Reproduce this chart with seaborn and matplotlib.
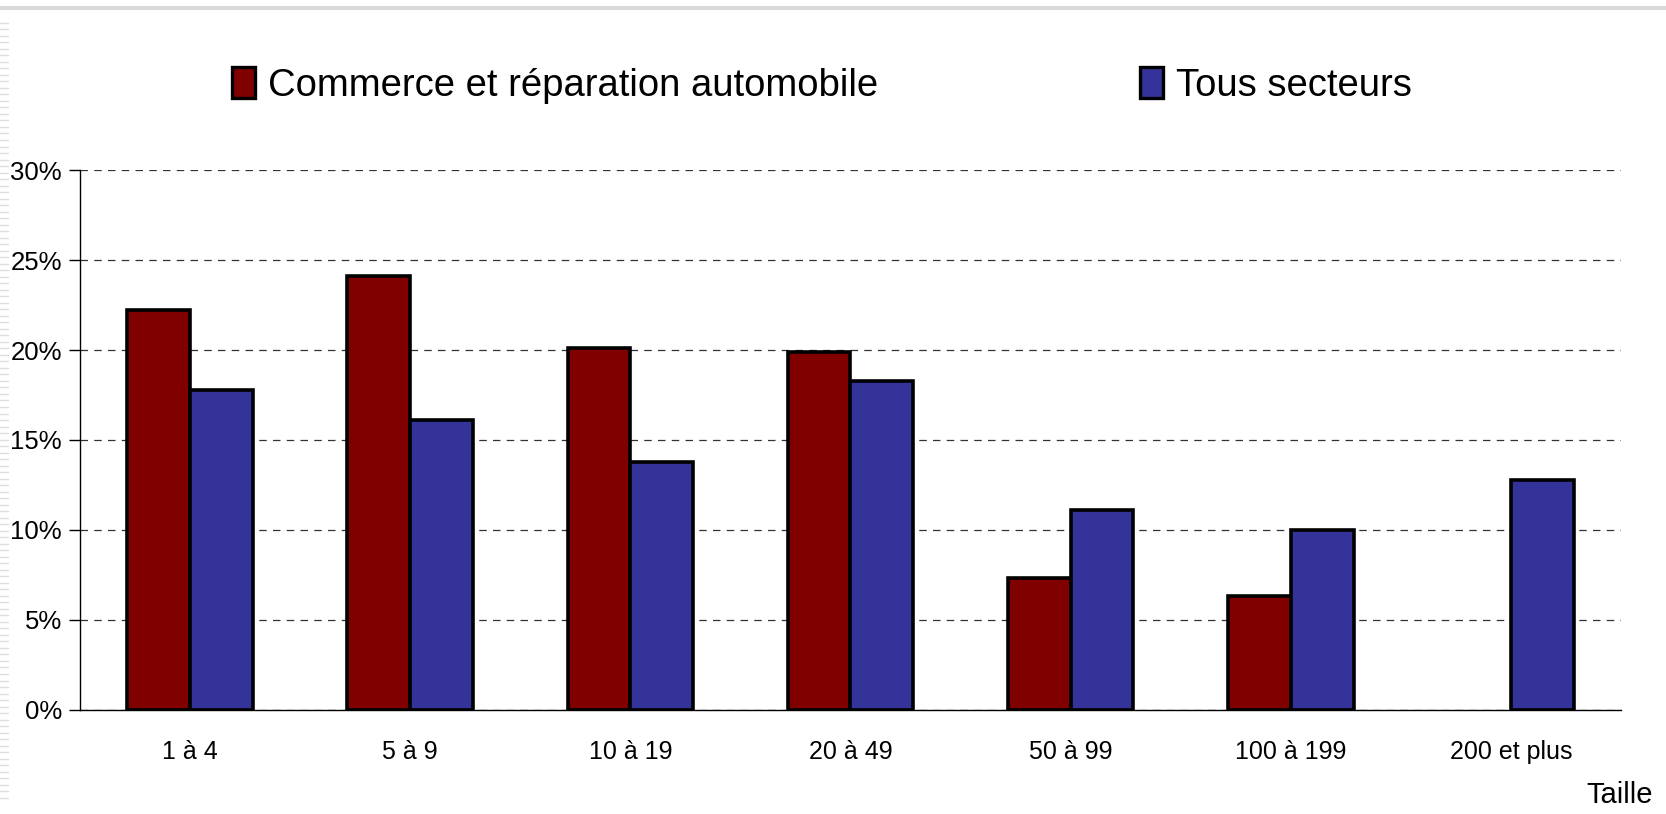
import matplotlib
matplotlib.use("Agg")
import matplotlib.pyplot as plt
import matplotlib.font_manager as fm
from matplotlib.lines import Line2D
from matplotlib.patches import Patch
from matplotlib.ticker import PercentFormatter
import seaborn as sns
import pandas as pd
import numpy as np

categories = ["1 à 4", "5 à 9", "10 à 19", "20 à 49", "50 à 99", "100 à 199", "200 et plus"]
commerce = [22.2, 24.1, 20.1, 19.9, 7.3, 6.3, np.nan]
tous = [17.8, 16.1, 13.8, 18.3, 11.1, 10.0, 12.8]
series_names = ["Commerce et réparation automobile", "Tous secteurs"]
colors = ["#800000", "#333399"]
yticks = [0, 5, 10, 15, 20, 25, 30]
xlabel = "Taille"

sns.set_theme(style="white")
names = {f.name for f in fm.fontManager.ttflist}
fam = ["Liberation Sans Narrow", "Liberation Sans", "DejaVu Sans"]
fam = [f for f in fam if f in names] or ["DejaVu Sans"]
plt.rcParams["font.family"] = fam
plt.rcParams["text.color"] = "black"
plt.rcParams["xtick.labelcolor"] = "black"
plt.rcParams["ytick.labelcolor"] = "black"

df = pd.DataFrame({
    "cat": categories * 2,
    "val": commerce + tous,
    "serie": [series_names[0]] * len(categories) + [series_names[1]] * len(categories),
})

fig = plt.figure(figsize=(16.66, 8.14), dpi=100)
ax = fig.add_axes([0.048, 0.128, 0.925, 0.663])

sns.barplot(data=df, x="cat", y="val", hue="serie", hue_order=series_names,
            palette=colors, width=0.57, gap=0, edgecolor="black", linewidth=2.6,
            saturation=1, legend=False, ax=ax, errorbar=None)

ax.set_xlim(-0.5, len(categories) - 0.5)
ax.set_ylim(0, 30)
ax.set_yticks(yticks)
ax.yaxis.set_major_formatter(PercentFormatter(decimals=0))
ax.grid(axis="y", color="#333333", linestyle=(0, (6, 5)), linewidth=0.9)
ax.set_axisbelow(True)
for s in ["top", "right"]:
    ax.spines[s].set_visible(False)
ax.spines["left"].set_color("black")
ax.spines["bottom"].set_color("black")
ax.spines["left"].set_linewidth(1.0)
ax.spines["bottom"].set_linewidth(1.0)
ax.tick_params(axis="y", left=True, length=8, width=1, color="black", labelsize=18.5, pad=5)
ax.tick_params(axis="x", bottom=False, labelsize=18, pad=16)
ax.set_xlabel("")
ax.set_ylabel("")
fig.text(0.992, 0.006, xlabel, ha="right", va="bottom", fontsize=21)

for name, col, xpos in zip(series_names, colors, [0.13, 0.675]):
    h = Patch(facecolor=col, edgecolor="black", linewidth=2.4)
    fig.legend(handles=[h], labels=[name], loc="center left", bbox_to_anchor=(xpos, 0.895),
               frameon=False, fontsize=27.5, handlelength=0.6, handleheight=0.85,
               handletextpad=0.35, borderaxespad=0)

# slide frame: top rule and left striped edge
fig.add_artist(Line2D([0, 1], [0.99, 0.99], color="#d9d9d9", linewidth=3, transform=fig.transFigure))
for yy in np.arange(0.02, 0.98, 0.008):
    fig.add_artist(Line2D([0.0, 0.005], [yy, yy], color="#dddddd", linewidth=1, transform=fig.transFigure))

fig.savefig("out.png", dpi=100)
